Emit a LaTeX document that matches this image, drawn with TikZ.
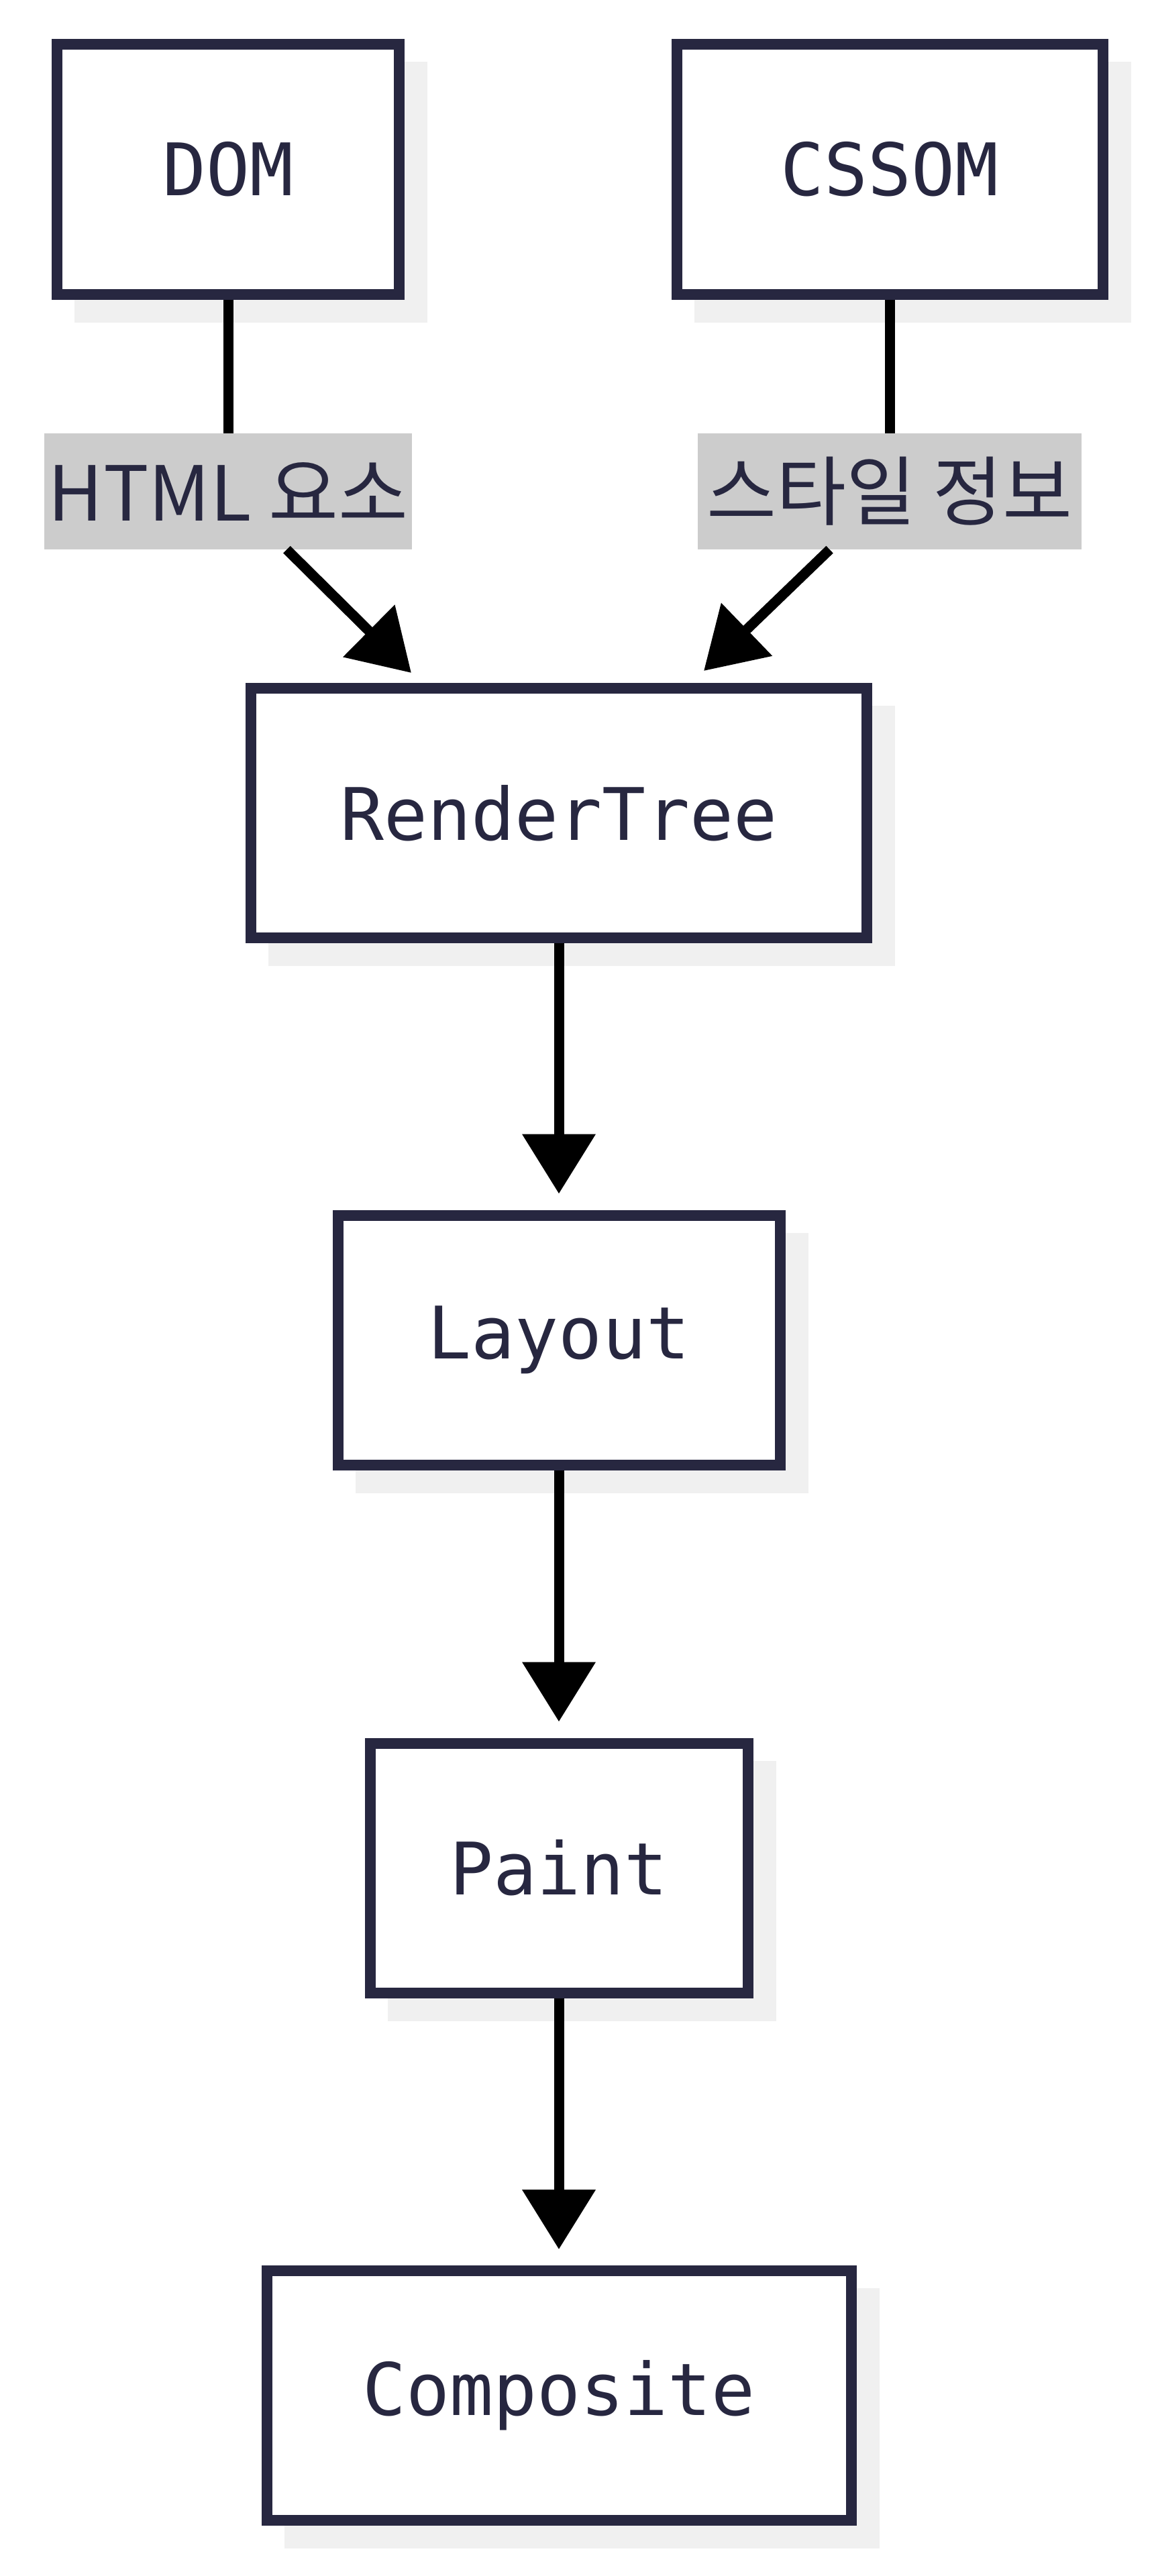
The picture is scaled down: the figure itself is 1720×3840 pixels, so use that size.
\documentclass[tikz,border=0pt]{standalone}
\usepackage{fontspec}
\newfontfamily\boxfont{DejaVu Sans Mono}
\newfontfamily\kofont{Noto Sans CJK KR}
\usetikzlibrary{arrows.meta,calc,backgrounds}
\definecolor{navy}{HTML}{272740}
\definecolor{shadowc}{HTML}{F0F0F0}
\definecolor{lblc}{HTML}{CCCCCC}
\begin{document}
\begin{tikzpicture}[x=1pt,y=-1pt,
  box/.style={draw=navy, line width=16pt, fill=white, minimum height=372pt, inner sep=0pt, text=navy, font=\boxfont\fontsize{108}{130}\selectfont},
  lbl/.style={fill=lblc, text=navy, minimum height=173pt, inner sep=0pt, font=\kofont\fontsize{113}{136}\selectfont},
  conn/.style={draw=black, line width=15pt},
  arr/.style={conn, -{Triangle[length=89pt,width=106pt]}}]
\useasboundingbox (0,0) rectangle (1720,3840);
\node[box, minimum width=510pt] (dom) at (340,252.5) {DOM};
\node[box, minimum width=635pt] (cssom) at (1326,252.5) {CSSOM};
\node[box, minimum width=918pt] (rt) at (833,1212) {RenderTree};
\node[box, minimum width=659pt] (lay) at (833,1997.5) {Layout};
\node[box, minimum width=563pt] (paint) at (833,2784.5) {Paint};
\node[box, minimum width=871pt] (comp) at (833,3571) {Composite};
\node[lbl, minimum width=548pt] (lbl1) at (340,732.5) {HTML 요소};
\node[lbl, minimum width=572pt] (lbl2) at (1326,732.5) {스타일 정보};
\coordinate (tipA) at (613,1003);
\coordinate (tipB) at (1049,1000);
\draw[conn] (dom.south) -- (lbl1.north);
\draw[conn] (cssom.south) -- (lbl2.north);
\draw[arr] (lbl1) -- (tipA);
\draw[arr] (lbl2) -- (tipB);
\draw[arr, shorten >=24pt] (rt.south) -- (lay.north);
\draw[arr, shorten >=24pt] (lay.south) -- (paint.north);
\draw[arr, shorten >=24pt] (paint.south) -- (comp.north);
\begin{scope}[on background layer]
  \fill[white] (0,0) rectangle (1720,3840);
  \foreach \n in {dom,cssom,rt,lay,paint,comp}
    \fill[shadowc] ($(\n.north west)+(34,34)$) rectangle ($(\n.south east)+(34,34)$);
\end{scope}
\end{tikzpicture}
\end{document}
